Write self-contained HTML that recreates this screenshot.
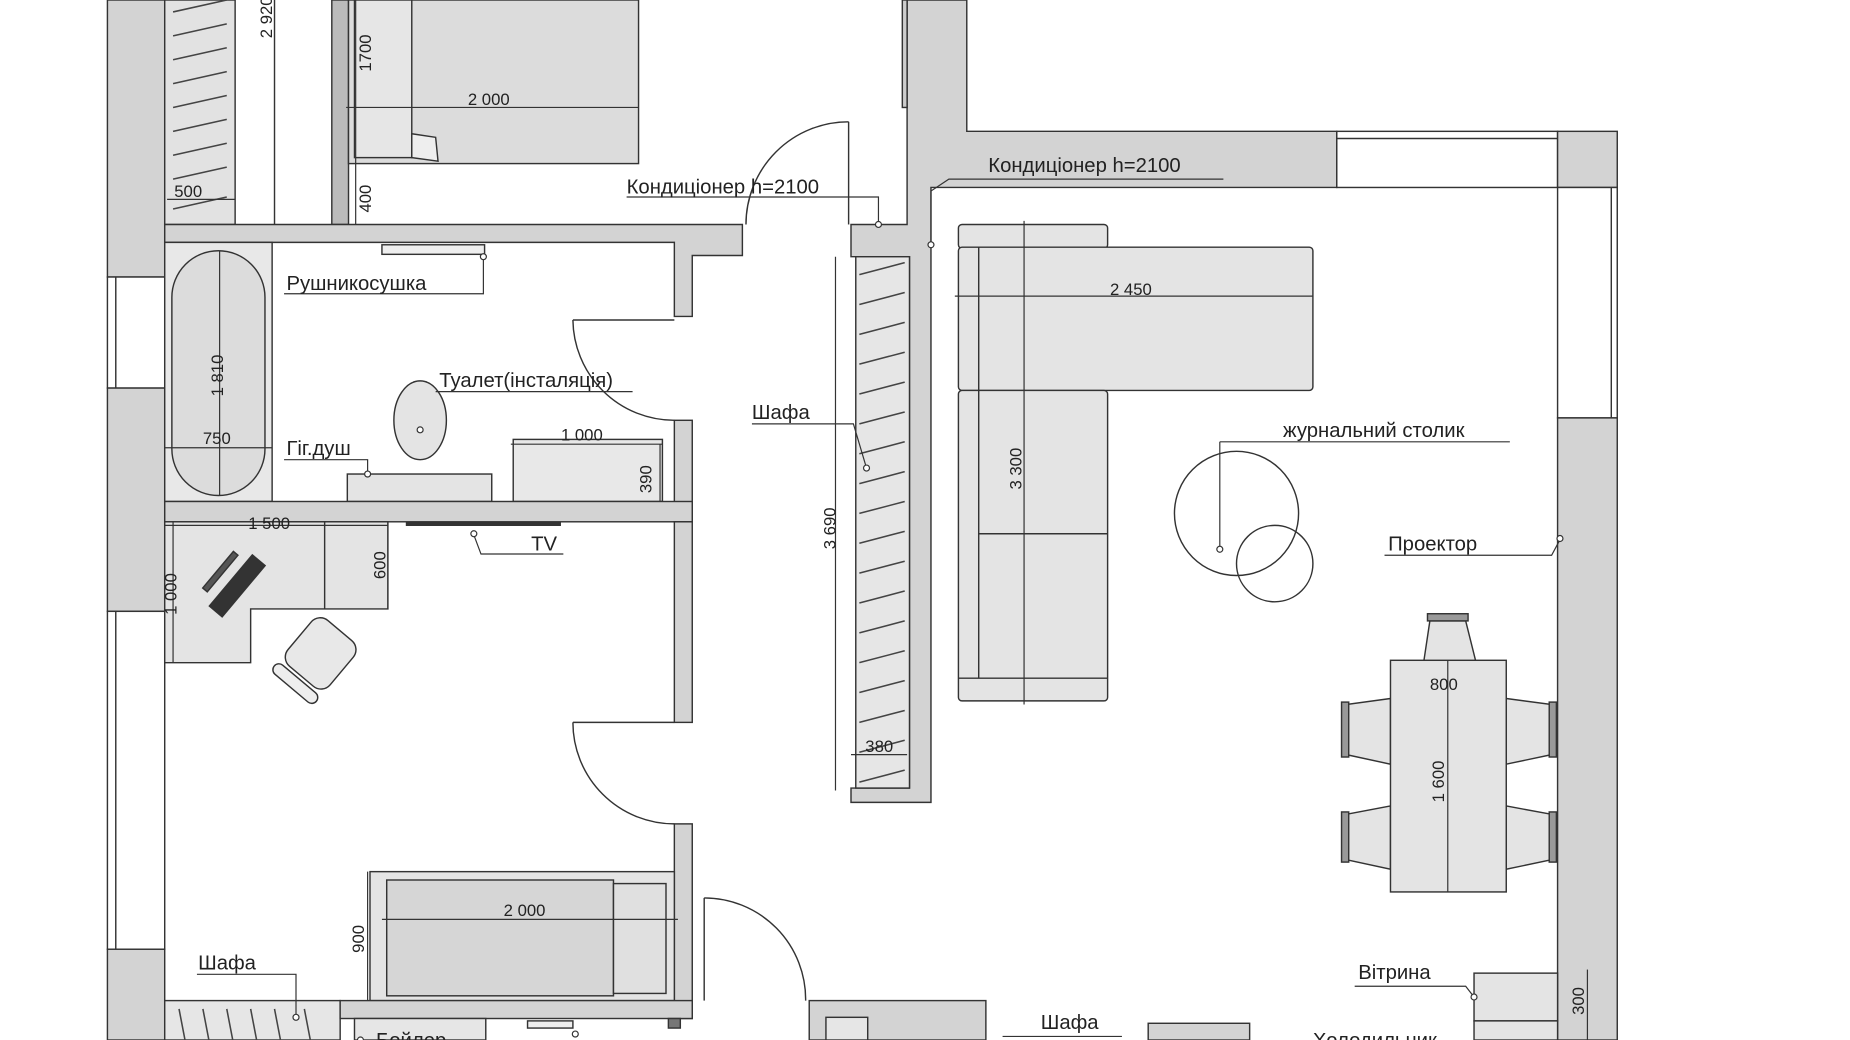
<!DOCTYPE html>
<html><head><meta charset="utf-8"><style>
html,body{margin:0;padding:0;background:#fff;width:1850px;height:1040px;overflow:hidden}
svg{display:block}
text{font-family:"Liberation Sans",sans-serif;fill:#222}
.l{font-size:17px}
.d{font-size:14px}
</style></head><body>
<svg width="1850" height="1040" viewBox="0 0 1550 871" preserveAspectRatio="none" xmlns="http://www.w3.org/2000/svg">
<g stroke="#333" stroke-width="1.2">
<!-- left outer wall -->
<rect x="90" y="0" width="48" height="232" fill="#d3d3d3"/>
<rect x="90" y="232" width="48" height="93" fill="#fff"/>
<line x1="97" y1="232" x2="97" y2="325"/>
<rect x="90" y="325" width="48" height="187" fill="#d3d3d3"/>
<rect x="90" y="512" width="48" height="283" fill="#fff"/>
<line x1="97" y1="512" x2="97" y2="795"/>
<rect x="90" y="795" width="48" height="76" fill="#d3d3d3"/>
<!-- top-left wardrobe -->
<rect x="138" y="0" width="59" height="188" fill="#e2e2e2"/>
<line x1="230" y1="0" x2="230" y2="188"/>
<rect x="278" y="0" width="14" height="188" fill="#bbb"/>
<!-- bed top -->
<rect x="292" y="0" width="243" height="137" fill="#dcdcdc"/>
<rect x="297" y="0" width="48" height="132" fill="#e6e6e6"/>
<polygon points="345,112 365,115 367,135 345,132" fill="#eee"/>
<!-- horizontal wall under bedroom -->
<path d="M138,188 H622 V214 H580 V265 H565 V203 H138 Z" fill="#d3d3d3"/>
<!-- top door -->
<line x1="711" y1="102" x2="711" y2="188"/>
<path d="M711,102 A86,86 0 0 0 625,188" fill="none"/>
<!-- wall column and wardrobe right -->
<path d="M760,0 H810 V110 H1120 V157 H780 V672 H713 V660 H762 V215 H713 V188 H760 Z" fill="#d3d3d3"/>
<rect x="717" y="215" width="45" height="445" fill="#e6e6e6"/>
<rect x="756" y="0" width="4" height="90" fill="#ccc"/>
<!-- top window -->
<rect x="1120" y="110" width="185" height="47" fill="#fff"/>
<line x1="1120" y1="116" x2="1305" y2="116"/>
<rect x="1305" y="110" width="50" height="47" fill="#d3d3d3"/>
<rect x="1305" y="157" width="50" height="193" fill="#fff"/>
<line x1="1350" y1="157" x2="1350" y2="350"/>
<rect x="1305" y="350" width="50" height="521" fill="#d3d3d3"/>
<!-- bathroom -->
<rect x="138" y="203" width="90" height="217" fill="#e8e8e8"/>
<rect x="144" y="210" width="78" height="205" rx="39" fill="#dcdcdc"/>
<rect x="565" y="352" width="15" height="85" fill="#d3d3d3"/>
<line x1="480" y1="268" x2="565" y2="268"/>
<path d="M480,268 A85,85 0 0 0 565,352" fill="none"/>
<ellipse cx="352" cy="352" rx="22" ry="33" fill="#e4e4e4"/>
<rect x="291" y="397" width="121" height="23" fill="#e4e4e4"/>
<rect x="430" y="368" width="125" height="52" fill="#e8e8e8"/>
<rect x="320" y="205" width="86" height="8" fill="#eee"/>
<rect x="138" y="420" width="442" height="17" fill="#d3d3d3"/>
<!-- office -->
<path d="M138,437 H325 V510 H210 V555 H138 Z" fill="#e4e4e4"/>
<line x1="272" y1="437" x2="272" y2="510"/>
<rect x="565" y="437" width="15" height="168" fill="#d3d3d3"/>
<line x1="340" y1="439" x2="470" y2="439" stroke-width="3"/>
<g transform="rotate(40 268 548)"><rect x="245" y="522" width="46" height="50" rx="10" fill="#e8e8e8"/><rect x="245" y="575" width="46" height="10" rx="5" fill="#eee"/></g>
<g transform="rotate(-50 198 490)"><rect x="170" y="484" width="56" height="14" fill="#333"/><rect x="178" y="470" width="40" height="5" fill="#555"/></g>
<!-- bedroom door -->
<line x1="480" y1="605" x2="565" y2="605"/>
<path d="M480,605 A85,85 0 0 0 565,690" fill="none"/>
<rect x="565" y="690" width="15" height="163" fill="#d3d3d3"/>
<!-- bottom bed -->
<rect x="310" y="730" width="255" height="108" fill="#e4e4e4"/>
<rect x="324" y="737" width="190" height="97" fill="#d6d6d6"/>
<rect x="514" y="740" width="44" height="92" fill="#e0e0e0"/>
<!-- bottom wall -->
<rect x="138" y="838" width="147" height="33" fill="#e6e6e6"/>
<rect x="285" y="838" width="295" height="15" fill="#d3d3d3"/>
<rect x="297" y="853" width="110" height="18" fill="#e6e6e6"/>
<rect x="442" y="855" width="38" height="6" fill="#eee"/>
<rect x="560" y="853" width="10" height="8" fill="#777"/>
<line x1="590" y1="752" x2="590" y2="838"/>
<path d="M590,752 A85,85 0 0 1 675,838" fill="none"/>
<rect x="678" y="838" width="148" height="33" fill="#d3d3d3"/>
<rect x="692" y="852" width="35" height="19" fill="#e6e6e6"/>
<rect x="962" y="857" width="85" height="14" fill="#d3d3d3"/>
<!-- sofa -->
<rect x="803" y="188" width="125" height="20" rx="3" fill="#e4e4e4"/>
<rect x="803" y="207" width="297" height="120" rx="3" fill="#e4e4e4"/>
<rect x="803" y="327" width="125" height="260" rx="3" fill="#e4e4e4"/>
<line x1="820" y1="207" x2="820" y2="568"/>
<line x1="820" y1="447" x2="928" y2="447"/>
<line x1="803" y1="568" x2="928" y2="568"/>
<!-- coffee tables -->
<circle cx="1036" cy="430" r="52" fill="none"/>
<circle cx="1068" cy="472" r="32" fill="none"/>
<!-- dining -->
<g fill="#e4e4e4">
<path d="M1198,520 H1228 L1238,560 H1192 Z"/>
<path d="M1165,585 L1128,590 V632 L1165,640 Z"/><path d="M1262,585 L1300,590 V632 L1262,640 Z"/>
<path d="M1165,675 L1128,682 V720 L1165,728 Z"/><path d="M1262,675 L1300,682 V720 L1262,728 Z"/>
<rect x="1165" y="553" width="97" height="194"/>
</g>
<rect x="1196" y="514" width="34" height="6" fill="#999"/>
<rect x="1124" y="588" width="6" height="46" fill="#999"/><rect x="1298" y="588" width="6" height="46" fill="#999"/>
<rect x="1124" y="680" width="6" height="42" fill="#999"/><rect x="1298" y="680" width="6" height="42" fill="#999"/>
<!-- vitrina -->
<rect x="1235" y="815" width="70" height="40" fill="#e4e4e4"/>
<rect x="1235" y="855" width="70" height="16" fill="#e4e4e4"/>
</g>
<!-- wardrobe hatches -->
<g stroke="#444" stroke-width="1.3">
<path d="M145,10 L190,0 M145,30 L190,20 M145,50 L190,40 M145,70 L190,60 M145,90 L190,80 M145,110 L190,100 M145,130 L190,120 M145,150 L190,140 M145,175 L190,165"/>
<path d="M720,230 L758,220 M720,255 L758,245 M720,280 L758,270 M720,305 L758,295 M720,330 L758,320 M720,355 L758,345 M720,380 L758,370 M720,405 L758,395 M720,430 L758,420 M720,455 L758,445 M720,480 L758,470 M720,505 L758,495 M720,530 L758,520 M720,555 L758,545 M720,580 L758,570 M720,605 L758,595 M720,630 L758,620 M720,655 L758,645"/>
<path d="M150,845 L155,871 M170,845 L175,871 M190,845 L195,871 M210,845 L215,871 M230,845 L235,871 M255,845 L260,871"/>
</g>
<!-- dimension lines -->
<g stroke="#333" stroke-width="1">
<line x1="290" y1="90" x2="535" y2="90"/>
<line x1="298" y1="0" x2="298" y2="188"/>
<line x1="140" y1="167" x2="197" y2="167"/>
<line x1="184" y1="210" x2="184" y2="415"/>
<line x1="138" y1="375" x2="228" y2="375"/>
<line x1="428" y1="372" x2="555" y2="372"/>
<line x1="553" y1="372" x2="553" y2="420"/>
<line x1="138" y1="440" x2="325" y2="440"/>
<line x1="145" y1="437" x2="145" y2="555"/>
<line x1="325" y1="437" x2="325" y2="510"/>
<line x1="700" y1="215" x2="700" y2="662"/>
<line x1="713" y1="632" x2="760" y2="632"/>
<line x1="800" y1="248" x2="1100" y2="248"/>
<line x1="858" y1="185" x2="858" y2="590"/>
<line x1="1213" y1="553" x2="1213" y2="747"/>
<line x1="308" y1="730" x2="308" y2="838"/>
<line x1="320" y1="770" x2="568" y2="770"/>
<line x1="1330" y1="812" x2="1330" y2="871"/>
<!-- leaders -->
<polyline points="238,246 405,246 405,213" fill="none"/>
<polyline points="525,165 736,165 736,188" fill="none"/>
<polyline points="828,150 1025,150 795,150 780,160 780,205" fill="none"/>
<polyline points="238,385 308,385 308,397" fill="none"/>
<polyline points="365,328 530,328" fill="none"/>
<polyline points="630,355 715,355 726,392" fill="none"/>
<polyline points="1022,370 1265,370" fill="none"/>
<line x1="1022" y1="370" x2="1022" y2="460"/>
<polyline points="1160,465 1300,465 1307,452" fill="none"/>
<polyline points="397,448 403,464 472,464" fill="none"/>
<polyline points="1135,826 1228,826 1235,835" fill="none"/>
<polyline points="165,816 248,816 248,850" fill="none"/>
<polyline points="840,868 940,868" fill="none"/>
</g>
<g fill="#fff" stroke="#333"><circle cx="405" cy="215" r="2.5"/><circle cx="736" cy="188" r="2.5"/><circle cx="780" cy="205" r="2.5"/><circle cx="308" cy="397" r="2.5"/><circle cx="352" cy="360" r="2.5"/><circle cx="726" cy="392" r="2.5"/><circle cx="1022" cy="460" r="2.5"/><circle cx="1307" cy="451" r="2.5"/><circle cx="397" cy="447" r="2.5"/><circle cx="1235" cy="835" r="2.5"/><circle cx="248" cy="852" r="2.5"/><circle cx="302" cy="871" r="2.5"/><circle cx="482" cy="866" r="2.5"/></g>
<!-- dimension text -->
<text class="d" x="392" y="88">2 000</text>
<text class="d" x="146" y="165">500</text>
<text class="d" x="170" y="372">750</text>
<text class="d" x="470" y="369">1 000</text>
<text class="d" x="208" y="443">1 500</text>
<text class="d" x="930" y="247">2 450</text>
<text class="d" x="725" y="630">380</text>
<text class="d" x="1198" y="578">800</text>
<text class="d" x="422" y="767">2 000</text>
<text class="d" transform="translate(228,32) rotate(-90)">2 920</text>
<text class="d" transform="translate(311,60) rotate(-90)">1700</text>
<text class="d" transform="translate(311,178) rotate(-90)">400</text>
<text class="d" transform="translate(187,332) rotate(-90)">1 810</text>
<text class="d" transform="translate(546,413) rotate(-90)">390</text>
<text class="d" transform="translate(148,515) rotate(-90)">1 000</text>
<text class="d" transform="translate(323,485) rotate(-90)">600</text>
<text class="d" transform="translate(700,460) rotate(-90)">3 690</text>
<text class="d" transform="translate(856,410) rotate(-90)">3 300</text>
<text class="d" transform="translate(1210,672) rotate(-90)">1 600</text>
<text class="d" transform="translate(305,798) rotate(-90)">900</text>
<text class="d" transform="translate(1327,850) rotate(-90)">300</text>
<!-- labels -->
<text class="l" x="240" y="243">Рушникосушка</text>
<text class="l" x="525" y="162">Кондиціонер h=2100</text>
<text class="l" x="828" y="144">Кондиціонер h=2100</text>
<text class="l" x="368" y="324">Туалет(інсталяція)</text>
<text class="l" x="240" y="381">Гіг.душ</text>
<text class="l" x="630" y="351">Шафа</text>
<text class="l" x="1075" y="366">журнальний столик</text>
<text class="l" x="1163" y="461">Проектор</text>
<text class="l" x="445" y="461">TV</text>
<text class="l" x="1138" y="820">Вітрина</text>
<text class="l" x="166" y="812">Шафа</text>
<text class="l" x="872" y="862">Шафа</text>
<text class="l" x="315" y="877">Бойлер</text>
<text class="l" x="495" y="884">Рушникосушка</text>
<text class="l" x="1100" y="877">Холодильник</text>
</svg>
</body></html>
